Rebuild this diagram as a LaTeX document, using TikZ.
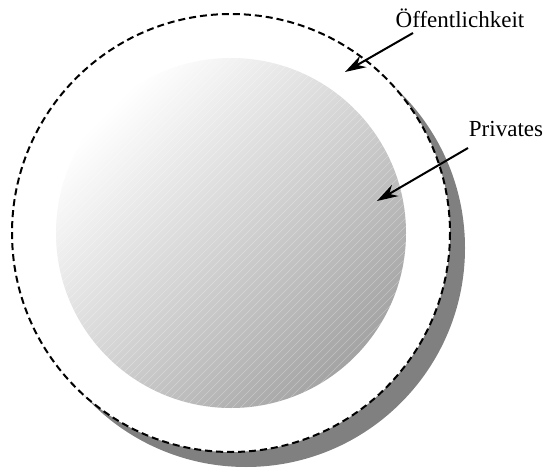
\documentclass[tikz,border=0pt]{standalone}
\usepackage{fontspec}
\setmainfont{Liberation Serif}
\usetikzlibrary{arrows.meta, calc}
\begin{document}
\begin{tikzpicture}[x=1pt, y=-1pt, >={Stealth[length=21pt,width=13pt]}]
  \useasboundingbox (0,0) rectangle (551,473);
  \tikzset{lbl/.style={font=\fontsize{23}{26}\selectfont, inner sep=0pt},
           pointer/.style={->, line width=2pt}}
  \coordinate (O) at (231,233);
  \coordinate (S) at (246,248);
  \coordinate (A1) at (413,33);
  \coordinate (T1) at (345,72);
  \coordinate (A2) at (468,148);
  \coordinate (T2) at (377,201);
  % shadow and public sphere
  \fill[black!50] (S) circle (219);
  \draw[fill=white, dash pattern=on 7pt off 4pt, line width=2pt] (O) circle (219);
  % private sphere
  \shade[top color=white, bottom color=black!36, middle color=black!17, shading angle=45] (O) circle (175);
  \begin{scope}
    \clip (O) circle (175);
    \foreach \k in {-45,...,45}
      \draw[white, opacity=0.3, line width=0.6pt] ($(O)+(8*\k-250,250)$) -- ++(500,-500);
  \end{scope}
  \node[lbl] (pub) at (460,18) {Öffentlichkeit};
  \node[lbl] (priv) at (506,129) {Privates};
  \draw[pointer] (A1) -- (T1);
  \draw[pointer] (A2) -- (T2);
\end{tikzpicture}
\end{document}
